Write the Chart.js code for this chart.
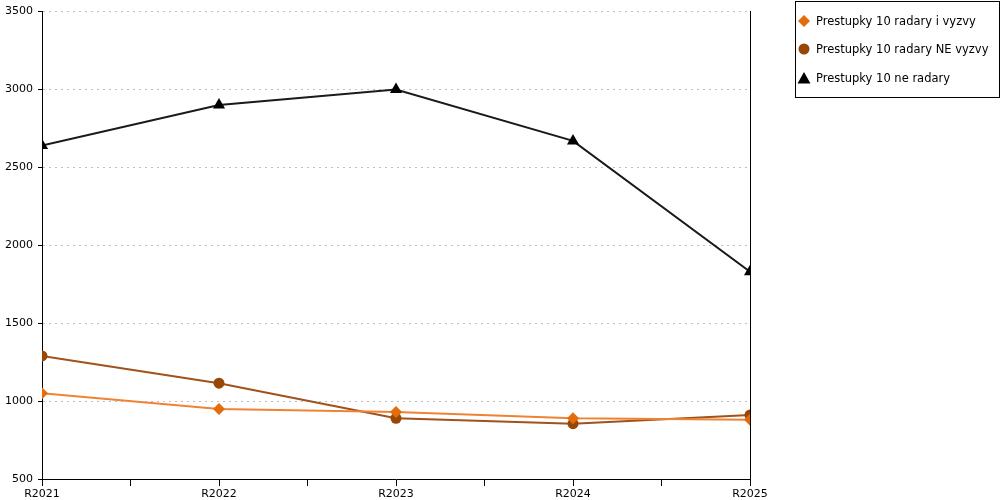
<!DOCTYPE html>
<html>
<head>
<meta charset="utf-8">
<script src="https://cdn.jsdelivr.net/npm/chart.js@4"></script>
<style>
  html, body { margin: 0; padding: 0; background: #fff; }
  #wrap { position: relative; width: 1000px; height: 500px; }
  #legend {
    position: absolute; left: 795px; top: 1px; width: 205px; height: 97px;
    border: 1px solid #000; box-sizing: border-box;
    font-family: "DejaVu Sans", sans-serif; font-size: 11.5px; color: #000;
  }
  #legend .row { position: absolute; left: 0; height: 14px; line-height: 14px; white-space: nowrap; }
  #legend svg { position: absolute; left: 1px; top: 0; }
  #legend span { position: absolute; left: 20px; top: 0; }
</style>
</head>
<body>
<div id="wrap">
  <canvas id="chart" width="1000" height="500"></canvas>
  <div id="legend"></div>
</div>
<script>
// categories and series
const years = ['R2021', 'R2022', 'R2023', 'R2024', 'R2025'];
const radaryVyzvy = [1050, 950, 930, 890, 880];
const radaryNeVyzvy = [1290, 1115, 890, 855, 910];
const neRadary = [2640, 2900, 3000, 2670, 1830];
const yTicks = [500, 1000, 1500, 2000, 2500, 3000, 3500];

const seriesNames = ['Prestupky 10 radary i vyzvy', 'Prestupky 10 radary NE vyzvy', 'Prestupky 10 ne radary'];
const seriesValues = [radaryVyzvy, radaryNeVyzvy, neRadary];
const lineColors = ['#EE8333', '#A0521C', '#1A1A1A'];
const markerColors = ['#E46C0A', '#974706', '#000000'];
const markerStyles = ['rectRot', 'circle', 'triangle'];
const markerSizes = [6, 5.5, 7];

const FONT = { family: 'DejaVu Sans', size: 11 };

// html legend with small svg markers
function buildLegend() {
    const box = document.getElementById('legend');
    const shapes = [
        '<polygon points="7,1 13,7 7,13 1,7" fill="' + markerColors[0] + '"/>',
        '<circle cx="7" cy="7" r="5.5" fill="' + markerColors[1] + '"/>',
        '<polygon points="7,1 13.5,12.5 0.5,12.5" fill="' + markerColors[2] + '"/>'
    ];
    const tops = [12, 40, 69];
    seriesNames.forEach((name, i) => {
        const row = document.createElement('div');
        row.className = 'row';
        row.style.top = tops[i] + 'px';
        row.innerHTML = '<svg width="14" height="14">' + shapes[i] + '</svg><span>' + name + '</span>';
        box.appendChild(row);
    });
}

function generateChart() {
    const ctx = document.getElementById('chart').getContext('2d');
    new Chart(ctx, {
        type: 'line',
        data: {
            datasets: seriesValues.map((vals, i) => ({
                label: seriesNames[i],
                data: vals.map((v, j) => ({ x: j, y: v })),
                borderColor: lineColors[i],
                borderWidth: 2,
                backgroundColor: markerColors[i],
                pointBackgroundColor: markerColors[i],
                pointBorderColor: markerColors[i],
                pointBorderWidth: 0,
                pointStyle: markerStyles[i],
                pointRadius: markerSizes[i],
                tension: 0,
                fill: false
            }))
        },
        options: {
            responsive: false,
            animation: false,
            events: [],
            layout: { padding: { top: 7, right: 250, left: 0, bottom: 0 } },
            plugins: { legend: { display: false }, tooltip: { enabled: false } },
            scales: {
                x: {
                    type: 'linear',
                    min: 0,
                    max: years.length - 1,
                    afterBuildTicks: s => {
                        const t = [];
                        for (let v = 0; v <= years.length - 1; v += 0.5) t.push({ value: v });
                        s.ticks = t;
                    },
                    afterFit: s => { s.height = 21; },
                    grid: { drawOnChartArea: false, tickLength: 7, tickColor: '#000', lineWidth: 1 },
                    border: { color: '#000', width: 1 },
                    ticks: {
                        autoSkip: false,
                        maxRotation: 0,
                        padding: 2,
                        color: '#000',
                        font: FONT,
                        callback: v => Number.isInteger(v) ? years[v] : ''
                    }
                },
                y: {
                    min: yTicks[0],
                    max: yTicks[yTicks.length - 1],
                    afterBuildTicks: s => { s.ticks = yTicks.map(v => ({ value: v })); },
                    afterFit: s => { s.width = 42; },
                    grid: { color: '#C0C0C0', tickColor: '#000', tickLength: 4, lineWidth: 1 },
                    border: { color: '#000', width: 1, dash: [2, 4] },
                    ticks: { color: '#000', font: FONT, padding: 5, callback: v => String(v) }
                },
                y1: {
                    position: 'right',
                    display: true,
                    min: yTicks[0],
                    max: yTicks[yTicks.length - 1],
                    afterFit: s => { s.width = 0; },
                    grid: { display: false },
                    border: { color: '#000', width: 1 },
                    ticks: { display: false }
                }
            }
        }
    });
}

buildLegend();
generateChart();
</script>
</body>
</html>
